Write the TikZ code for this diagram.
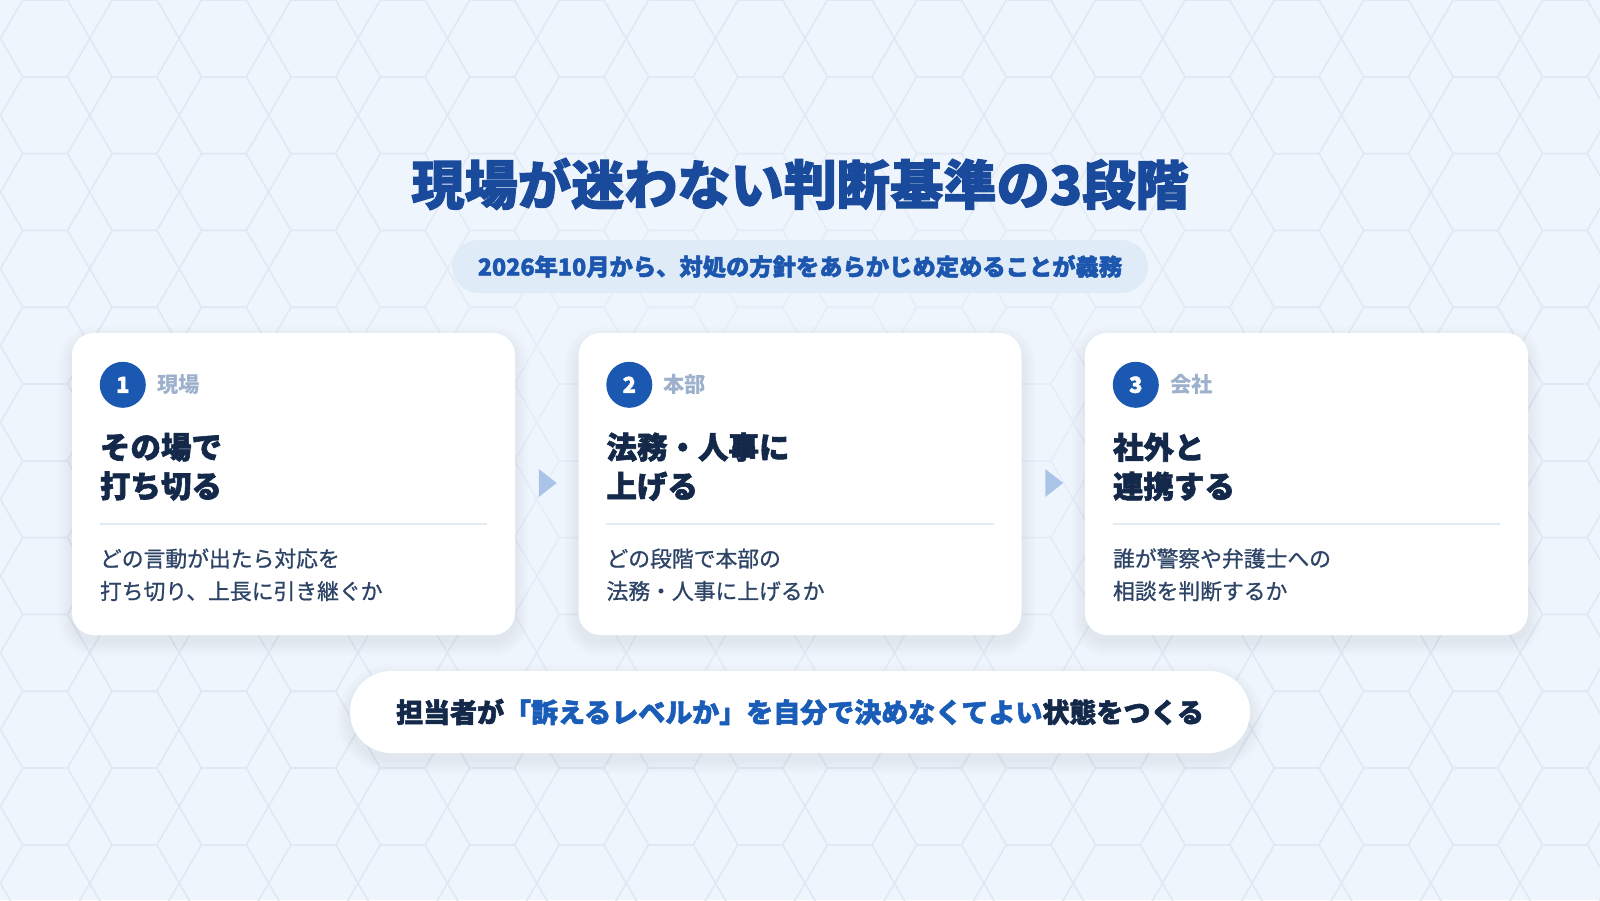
\documentclass[tikz,border=0pt]{standalone}
\usepackage{fontspec}
\setmainfont{Noto Sans CJK JP}
\newfontfamily\heavyfont{Noto Sans CJK JP}[BoldFeatures={FakeBold=2}]
\newfontfamily\medfont{Noto Sans CJK JP}[UprightFeatures={FakeBold=0.9}]
\usetikzlibrary{calc,fadings}
\definecolor{bgc}{HTML}{EFF5FC}
\definecolor{hexc}{HTML}{DFE8F3}
\definecolor{titleblue}{HTML}{1A4A9C}
\definecolor{subblue}{HTML}{1C56AE}
\definecolor{pillbg}{HTML}{E0EBF8}
\definecolor{circc}{HTML}{1B58B2}
\definecolor{labelc}{HTML}{9EB1CC}
\definecolor{navyc}{HTML}{14294A}
\definecolor{descc}{HTML}{2D4466}
\definecolor{divc}{HTML}{E3EBF5}
\definecolor{arrowc}{HTML}{A9C4E7}
\definecolor{accentc}{HTML}{1A5DB8}
\definecolor{shadowc}{HTML}{7D9BC8}
\tikzfading[name=glowfade, inner color=transparent!35, outer color=transparent!100]
\tikzset{
  cardbox/.style={fill=white, rounded corners=22pt, minimum width=443pt, minimum height=302pt, inner sep=0pt},
  numcirc/.style={circle, fill=circc, minimum size=46pt, inner sep=0pt, text=white, font=\heavyfont\bfseries\fontsize{22}{22}\selectfont},
  labeltext/.style={anchor=west, inner sep=0pt, text=labelc, font=\bfseries\fontsize{21.3}{21}\selectfont},
  cardtitle/.style={anchor=west, inner sep=0pt, align=left, text=navyc, font=\heavyfont\bfseries\fontsize{30.5}{39}\selectfont},
  desctext/.style={anchor=west, inner sep=0pt, align=left, text=descc, font=\medfont\fontsize{21.8}{32.5}\selectfont},
  divline/.style={draw=divc, line width=2pt},
  flowarrow/.style={fill=arrowc},
  hexline/.style={draw=hexc, line width=1.6pt}
}
\begin{document}
\begin{tikzpicture}[x=1pt,y=-1pt]
\useasboundingbox (0,0) rectangle (1600,900);
\fill[bgc] (0,0) rectangle (1600,900);
\begin{scope}
\clip (0,0) rectangle (1600,900);
\foreach \i in {-1,...,18}{
  \foreach \j in {-1,...,12}{
    \pgfmathsetmacro\cx{134.5+89.4*\i}
    \pgfmathsetmacro\cy{38.4+76.8*\j}
    \draw[hexline] (\cx-44.7,\cy) -- (\cx-22.35,\cy-38.4) -- (\cx+22.35,\cy-38.4) -- (\cx+44.7,\cy) -- (\cx+22.35,\cy+38.4) -- (\cx-22.35,\cy+38.4) -- cycle;
  }
}
\fill[bgc, path fading=glowfade] (800,420) ellipse (760pt and 430pt);
\end{scope}

% title
\node[inner sep=0pt, text=titleblue, font=\heavyfont\bfseries\fontsize{53.2}{60}\selectfont] (title) at (800,184) {現場が迷わない判断基準の3段階};

% subtitle pill
\node[fill=pillbg, rounded corners=26.5pt, minimum width=696pt, minimum height=53pt, inner sep=0pt, text=subblue, font=\heavyfont\bfseries\fontsize{23.3}{24}\selectfont] (sub) at (800,266.5) {2026年10月から、対処の方針をあらかじめ定めることが義務};

% shadows
\foreach \cxx in {293.5,800,1306.5}{
  \foreach \k in {1,...,14}{
    \fill[shadowc, opacity=0.008, rounded corners=22pt+\k pt] (\cxx-221.5-\k,333-\k+7) rectangle (\cxx+221.5+\k,635+\k+7);
  }
}
\foreach \k in {1,...,14}{
  \fill[shadowc, opacity=0.008, rounded corners=41pt+\k pt] (350-\k,671-\k+7) rectangle (1250+\k,753+\k+7);
}

% cards
\node[cardbox] (c1) at (293.5,484) {};
\node[cardbox] (c2) at (800,484) {};
\node[cardbox] (c3) at (1306.5,484) {};

\node[numcirc] (n1) at ($(c1.north west)+(51,52)$) {1};
\node[numcirc] (n2) at ($(c2.north west)+(51,52)$) {2};
\node[numcirc] (n3) at ($(c3.north west)+(51,52)$) {3};

\node[labeltext] (l1) at ($(c1.north west)+(85,52)$) {現場};
\node[labeltext] (l2) at ($(c2.north west)+(85,52)$) {本部};
\node[labeltext] (l3) at ($(c3.north west)+(85,52)$) {会社};

\node[cardtitle] (t1) at ($(c1.north west)+(28,134)$) {その場で\\打ち切る};
\node[cardtitle] (t2) at ($(c2.north west)+(28,134)$) {法務・人事に\\上げる};
\node[cardtitle] (t3) at ($(c3.north west)+(28,134)$) {社外と\\連携する};

\foreach \c in {c1,c2,c3}{
  \draw[divline] ($(\c.north west)+(28,191)$) -- ($(\c.north east)+(-28,191)$);
}

\node[desctext] (d1) at ($(c1.north west)+(28,242)$) {どの言動が出たら対応を\\打ち切り、上長に引き継ぐか};
\node[desctext] (d2) at ($(c2.north west)+(28,242)$) {どの段階で本部の\\法務・人事に上げるか};
\node[desctext] (d3) at ($(c3.north west)+(28,242)$) {誰が警察や弁護士への\\相談を判断するか};

% arrows between cards
\coordinate (a1) at ($(c1.east)!0.5!(c2.west)+(1,-1)$);
\coordinate (a2) at ($(c2.east)!0.5!(c3.west)+(1,-1)$);
\fill[flowarrow] ($(a1)+(-9,-14)$) -- ($(a1)+(9,0)$) -- ($(a1)+(-9,14)$) -- cycle;
\fill[flowarrow] ($(a2)+(-9,-14)$) -- ($(a2)+(9,0)$) -- ($(a2)+(-9,14)$) -- cycle;

% bottom pill
\node[fill=white, rounded corners=41pt, minimum width=900pt, minimum height=82pt, inner sep=0pt, font=\heavyfont\bfseries\fontsize{27}{28}\selectfont, text=navyc] (bottom) at (800,712) {担当者が\textcolor{accentc}{「訴えるレベルか」を自分で決めなくてよい}状態をつくる};
\end{tikzpicture}
\end{document}
